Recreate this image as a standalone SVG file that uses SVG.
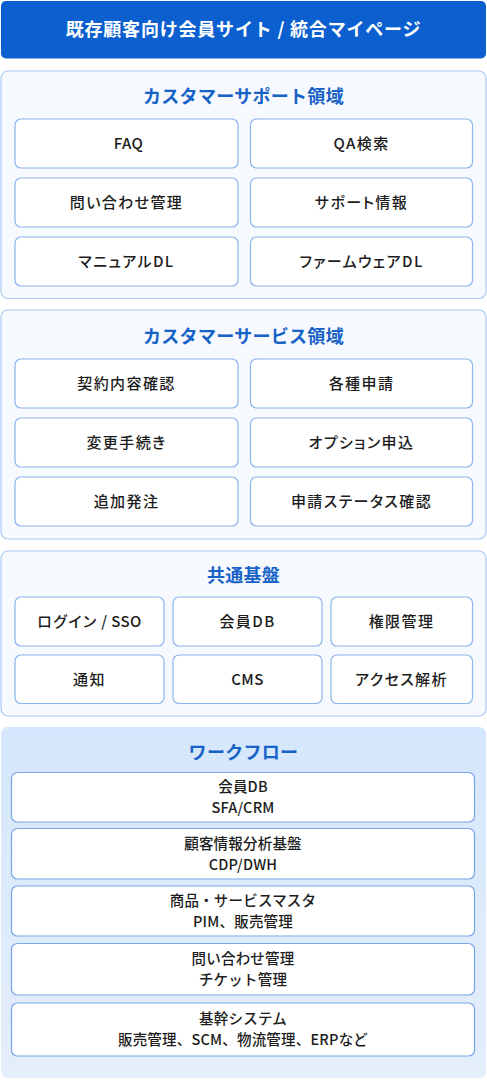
<svg xmlns="http://www.w3.org/2000/svg" width="487" height="1081" viewBox="0 0 487 1081">
<defs>
<linearGradient id="wfg" x1="0" y1="0" x2="0" y2="1">
<stop offset="0" stop-color="#d5e7fc"/>
<stop offset="1" stop-color="#e4eefb"/>
</linearGradient>
<style>
.sec{fill:#f6f9fe;stroke:#a9c9f1;stroke-width:1.2}
.box{fill:#ffffff;stroke:#8cb5eb;stroke-width:1.2}
.wbox{fill:#ffffff;stroke:#79a7e6;stroke-width:1.2}
.ttl{font-family:"Noto Sans CJK JP","Noto Sans",sans-serif;font-weight:700;font-size:18px;fill:#1762c6;text-anchor:middle;letter-spacing:0.3px}
.lbl{font-family:"Noto Sans CJK JP","Noto Sans",sans-serif;font-weight:500;font-size:15px;fill:#1c1c1c;text-anchor:middle;letter-spacing:1.4px;font-feature-settings:"palt"}
.lat{letter-spacing:0.4px}
.wl{font-family:"Noto Sans CJK JP","Noto Sans",sans-serif;font-weight:500;font-size:14.5px;fill:#1c1c1c;text-anchor:middle;letter-spacing:0.2px}
</style>
</defs>
<rect width="487" height="1081" fill="#ffffff"/>
<g id="header">
<rect x="1" y="1" width="485" height="57.5" rx="5" fill="#0b5fcf"/>
<text x="243.5" y="36" font-family="Noto Sans CJK JP, Noto Sans, sans-serif" font-weight="700" font-size="18" fill="#ffffff" text-anchor="middle" letter-spacing="0.8">既存顧客向け会員サイト / 統合マイページ</text>
</g>
<g id="support">
<rect class="sec" x="1" y="71" width="485" height="227.5" rx="7"/>
<text class="ttl" x="243.5" y="103">カスタマーサポート領域</text>
<g id="s-faq"><rect class="box" x="15" y="119" width="223" height="49" rx="6"/><text class="lbl lat" x="128.5" y="149">FAQ</text></g>
<g id="s-qa"><rect class="box" x="250.5" y="119" width="222" height="49" rx="6"/><text class="lbl" x="361.5" y="149">QA検索</text></g>
<g id="s-inq"><rect class="box" x="15" y="178" width="223" height="49" rx="6"/><text class="lbl" x="126.5" y="208">問い合わせ管理</text></g>
<g id="s-info"><rect class="box" x="250.5" y="178" width="222" height="49" rx="6"/><text class="lbl" x="361.5" y="208">サポート情報</text></g>
<g id="s-man"><rect class="box" x="15" y="237" width="223" height="49" rx="6"/><text class="lbl" x="126.5" y="267">マニュアルDL</text></g>
<g id="s-fw"><rect class="box" x="250.5" y="237" width="222" height="49" rx="6"/><text class="lbl" x="361.5" y="267">ファームウェアDL</text></g>
</g>
<g id="service">
<rect class="sec" x="1" y="310" width="485" height="229" rx="7"/>
<text class="ttl" x="243.5" y="343">カスタマーサービス領域</text>
<g id="v-contract"><rect class="box" x="15" y="359" width="223" height="49" rx="6"/><text class="lbl" x="126.5" y="389">契約内容確認</text></g>
<g id="v-apply"><rect class="box" x="250.5" y="359" width="222" height="49" rx="6"/><text class="lbl" x="361.5" y="389">各種申請</text></g>
<g id="v-change"><rect class="box" x="15" y="418" width="223" height="49" rx="6"/><text class="lbl" x="126.5" y="448">変更手続き</text></g>
<g id="v-option"><rect class="box" x="250.5" y="418" width="222" height="49" rx="6"/><text class="lbl" x="361.5" y="448">オプション申込</text></g>
<g id="v-order"><rect class="box" x="15" y="477" width="223" height="49" rx="6"/><text class="lbl" x="126.5" y="507">追加発注</text></g>
<g id="v-status"><rect class="box" x="250.5" y="477" width="222" height="49" rx="6"/><text class="lbl" x="361.5" y="507">申請ステータス確認</text></g>
</g>
<g id="common">
<rect class="sec" x="1" y="551" width="485" height="165" rx="7"/>
<text class="ttl" x="243.5" y="582">共通基盤</text>
<g id="c-login"><rect class="box" x="15" y="597" width="149" height="49" rx="6"/><text class="lbl" x="89.5" y="627">ログイン<tspan class="lat"> / SSO</tspan></text></g>
<g id="c-db"><rect class="box" x="173" y="597" width="149" height="49" rx="6"/><text class="lbl" x="247.5" y="627">会員DB</text></g>
<g id="c-auth"><rect class="box" x="331" y="597" width="141.5" height="49" rx="6"/><text class="lbl" x="401.5" y="627">権限管理</text></g>
<g id="c-notify"><rect class="box" x="15" y="655" width="149" height="48.5" rx="6"/><text class="lbl" x="89.5" y="685">通知</text></g>
<g id="c-cms"><rect class="box" x="173" y="655" width="149" height="48.5" rx="6"/><text class="lbl lat" x="247.5" y="685">CMS</text></g>
<g id="c-ana"><rect class="box" x="331" y="655" width="141.5" height="48.5" rx="6"/><text class="lbl" x="401.5" y="685">アクセス解析</text></g>
</g>
<g id="workflow">
<rect x="1" y="727" width="485" height="351" rx="7" fill="url(#wfg)"/>
<text class="ttl" x="243.5" y="759">ワークフロー</text>
<g id="w-crm"><rect class="wbox" x="11.5" y="772.5" width="463" height="49.5" rx="6"/><text class="wl" x="243" y="792">会員DB</text><text class="wl" x="243" y="813">SFA/CRM</text></g>
<g id="w-cdp"><rect class="wbox" x="11.5" y="828.5" width="463" height="50.5" rx="6"/><text class="wl" x="243" y="849">顧客情報分析基盤</text><text class="wl" x="243" y="870">CDP/DWH</text></g>
<g id="w-pim"><rect class="wbox" x="11.5" y="886" width="463" height="50" rx="6"/><text class="wl" x="243" y="906">商品・サービスマスタ</text><text class="wl" x="243" y="927">PIM、販売管理</text></g>
<g id="w-ticket"><rect class="wbox" x="11.5" y="943.5" width="463" height="51.5" rx="6"/><text class="wl" x="243" y="964">問い合わせ管理</text><text class="wl" x="243" y="985">チケット管理</text></g>
<g id="w-erp"><rect class="wbox" x="11.5" y="1003" width="463" height="53" rx="6"/><text class="wl" x="243" y="1024">基幹システム</text><text class="wl" x="243" y="1045">販売管理、SCM、物流管理、ERPなど</text></g>
</g>
<g id="connectors"></g>
</svg>
